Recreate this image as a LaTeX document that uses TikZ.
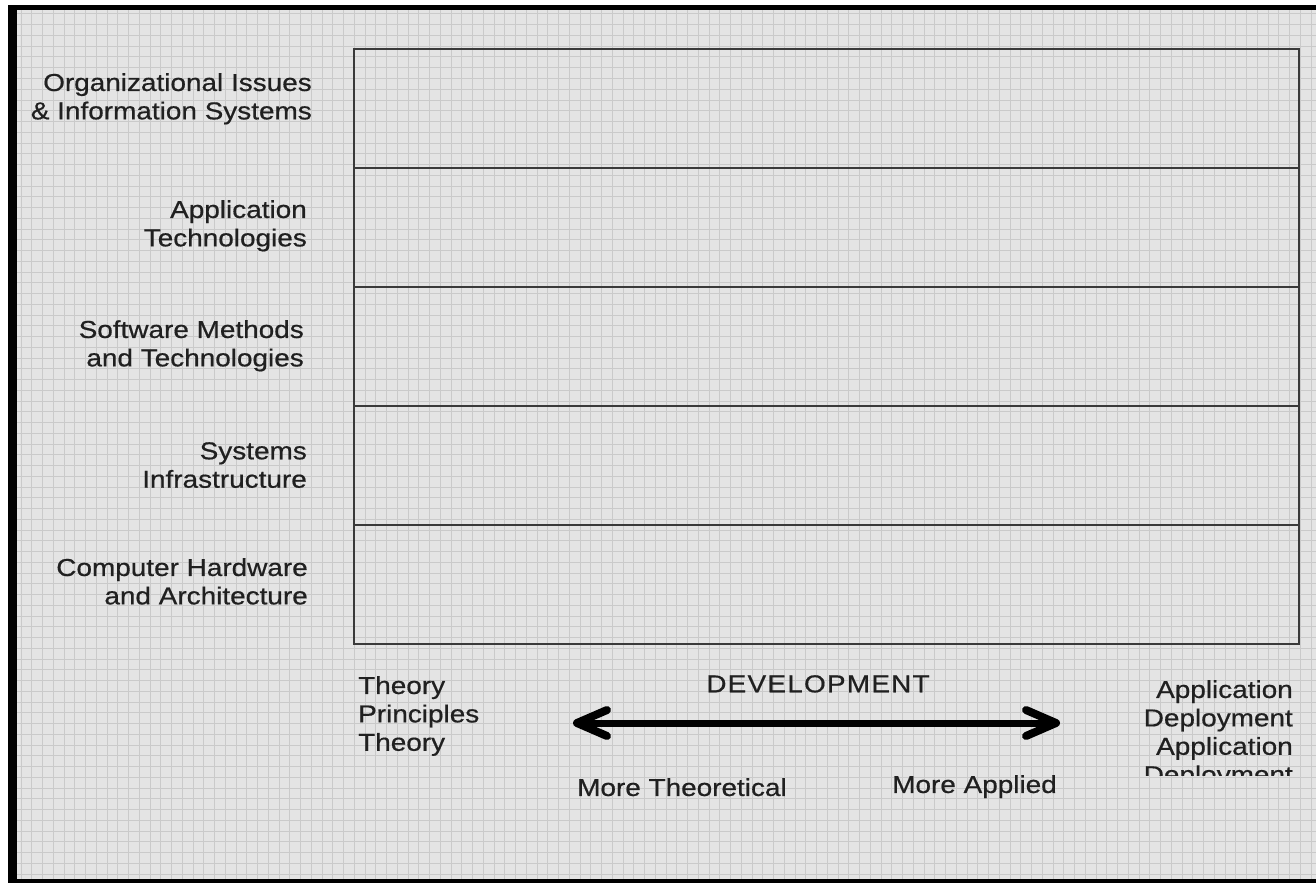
\documentclass[tikz,border=0pt]{standalone}
\usepackage{fontspec}
\setmainfont{Liberation Sans}[FakeStretch=1.14,FakeBold=0.6]
\newfontfamily\devfont{Liberation Sans}[FakeStretch=1.14,FakeBold=0.6,LetterSpace=5]
\usetikzlibrary{arrows.meta}
\definecolor{bggray}{HTML}{E4E4E4}
\definecolor{gridgray}{HTML}{CACACA}
\definecolor{txt}{HTML}{202020}
\definecolor{boxline}{HTML}{3A3A3A}
\begin{document}
\begin{tikzpicture}[x=1pt,y=-1pt,
  lbl/.style={inner sep=0pt, font=\fontsize{24.5}{28.4}\selectfont, text=txt, align=right, anchor=north east},
  lbll/.style={lbl, align=left, anchor=north west},
  rowbox/.style={draw=boxline, line width=1.6pt, minimum width=945pt, minimum height=119pt, inner sep=0pt, anchor=north west},
  gridline/.style={draw=gridgray, line width=1pt},
  barb/.tip={Straight Barb[length=30pt,width=26pt,line width=8pt,round]},
  devarrow/.style={line width=7pt, barb-barb}
]
\useasboundingbox (0,0) rectangle (1316,883);
\fill[white] (0,0) rectangle (1316,883);
\fill[bggray] (17,10) rectangle (1316,879);
\foreach \i in {0,...,121} {
  \draw[gridline] ({21+10.75*\i},10) -- ({21+10.75*\i},879);
}
\foreach \j in {0,...,80} {
  \draw[gridline] (17,{14+10.75*\j}) -- (1316,{14+10.75*\j});
}
% frame
\fill[black] (8,5) rectangle (17,883);
\fill[black] (8,5) rectangle (1316,10);
\fill[black] (8,879) rectangle (1316,883);
% rows
\node[rowbox] (r1) at (353,48) {};
\node[rowbox] (r2) at (353,167) {};
\node[rowbox] (r3) at (353,286) {};
\node[rowbox] (r4) at (353,405) {};
\node[rowbox] (r5) at (353,524) {};
% labels
\node[lbl] (l1) at (312,73) {Organizational Issues\\\& Information Systems};
\node[lbl] (l2) at (307,200) {Application\\Technologies};
\node[lbl] (l3) at (304,320) {Software Methods\\and Technologies};
\node[lbl] (l4) at (307,442) {Systems\\Infrastructure};
\node[lbl] (l5) at (308,558) {Computer Hardware\\and Architecture};
% bottom axis
\node[lbll] (th) at (358,676) {Theory\\Principles\\Theory};
\node[lbl, anchor=north] (dev) at (818,675) {\devfont DEVELOPMENT};
\coordinate (aL) at (573,723);
\coordinate (aR) at (1060,723);
\draw[devarrow] (aL) -- (aR);
\node[lbll] (mt) at (577,778) {More Theoretical};
\node[lbl] (ma) at (1057,775) {More Applied};
\begin{scope}
\clip (1100,660) rectangle (1316,775);
\node[lbl] (app) at (1293,680) {Application\\Deployment\\Application\\Deployment};
\end{scope}
\end{tikzpicture}
\end{document}
